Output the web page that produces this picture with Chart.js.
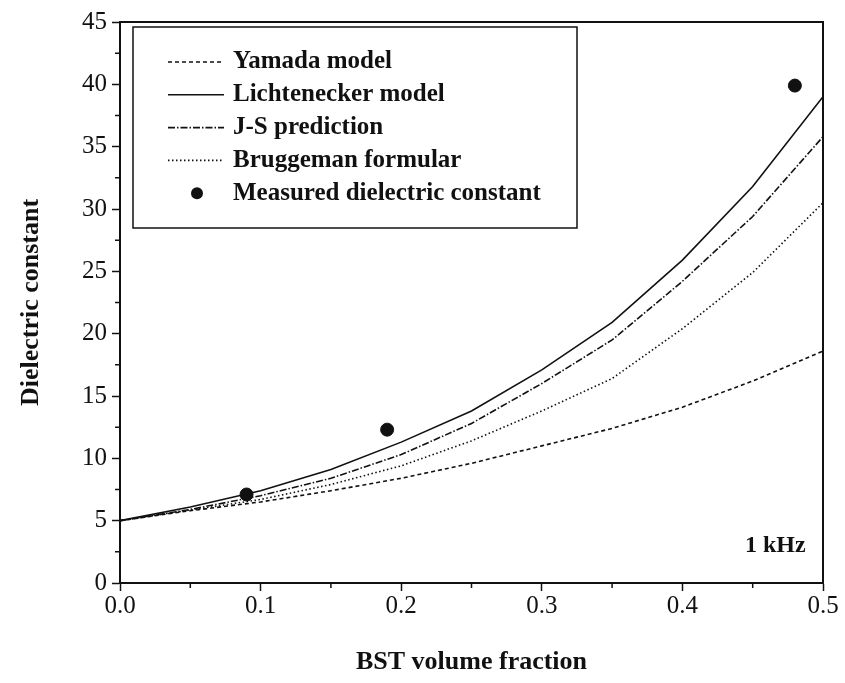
<!DOCTYPE html>
<html>
<head>
<meta charset="utf-8">
<script src="https://cdn.jsdelivr.net/npm/chart.js@4/dist/chart.umd.min.js"></script>
<style>
  html, body { margin: 0; padding: 0; background: #fff; }
  #wrap { width: 845px; height: 683px; }
</style>
</head>
<body>
<div id="wrap"><canvas id="dielectricChart" width="845" height="683"></canvas></div>
<script>
// Values (BST volume fraction vs dielectric constant)
const fractions = [0, 0.05, 0.1, 0.15, 0.2, 0.25, 0.3, 0.35, 0.4, 0.45, 0.5];
const yamada = [5, 5.8, 6.5, 7.4, 8.4, 9.6, 11.0, 12.4, 14.1, 16.2, 18.6];
const lichtenecker = [5, 6.1, 7.4, 9.1, 11.3, 13.8, 17.1, 20.9, 25.9, 31.8, 39.0];
const jsPrediction = [5, 5.9, 7.0, 8.4, 10.3, 12.8, 16.0, 19.5, 24.2, 29.4, 35.8];
const bruggeman = [5, 5.85, 6.7, 7.9, 9.4, 11.4, 13.8, 16.4, 20.4, 24.9, 30.5];
const measuredX = [0.09, 0.19, 0.48];
const measuredY = [7.1, 12.3, 39.9];
const xTicks = [0, 0.1, 0.2, 0.3, 0.4, 0.5];
const yTicks = [0, 5, 10, 15, 20, 25, 30, 35, 40, 45];

const INK = '#111';
const SERIF = '"Liberation Serif", "DejaVu Serif", serif';

function toPoints(xs, ys) {
    return xs.map((x, i) => ({ x: x, y: ys[i] }));
}

function lineSet(label, values, dash) {
    return {
        label: label,
        data: toPoints(fractions, values),
        borderColor: INK,
        borderWidth: 1.6,
        borderDash: dash,
        pointRadius: 0,
        tension: 0,
        fill: false
    };
}

// frame, minor ticks, legend box and the "1 kHz" note
const decorations = {
    id: 'decorations',
    afterDraw(chart) {
        const ctx = chart.ctx;
        const area = chart.chartArea;
        const xs = chart.scales.x;
        const ys = chart.scales.y;
        ctx.save();
        ctx.strokeStyle = INK;
        ctx.lineWidth = 2;
        ctx.setLineDash([]);
        ctx.strokeRect(area.left, area.top, area.right - area.left, area.bottom - area.top);

        // minor ticks
        ctx.lineWidth = 1.5;
        ctx.beginPath();
        for (let i = 0; i < yTicks.length - 1; i++) {
            const py = ys.getPixelForValue((yTicks[i] + yTicks[i + 1]) / 2);
            ctx.moveTo(area.left - 5, py);
            ctx.lineTo(area.left, py);
        }
        for (let i = 0; i < xTicks.length - 1; i++) {
            const px = xs.getPixelForValue((xTicks[i] + xTicks[i + 1]) / 2);
            ctx.moveTo(px, area.bottom);
            ctx.lineTo(px, area.bottom + 5);
        }
        ctx.stroke();

        // legend
        ctx.lineWidth = 1.5;
        ctx.strokeRect(133, 27, 444, 201);
        ctx.font = 'bold 25px ' + SERIF;
        ctx.textBaseline = 'middle';
        ctx.fillStyle = INK;
        chart.data.datasets.forEach((ds, i) => {
            const y = 62 + i * 32.8;
            if (ds.showLine === false) {
                ctx.beginPath();
                ctx.arc(197, y, 6, 0, Math.PI * 2);
                ctx.fill();
            } else {
                ctx.lineWidth = ds.borderWidth;
                ctx.setLineDash(ds.borderDash || []);
                ctx.beginPath();
                ctx.moveTo(168, y);
                ctx.lineTo(224, y);
                ctx.stroke();
                ctx.setLineDash([]);
            }
            ctx.fillText(ds.label, 233, y);
        });

        ctx.font = 'bold 24px ' + SERIF;
        ctx.fillText('1 kHz', 745, 546);
        ctx.restore();
    }
};

new Chart(document.getElementById('dielectricChart'), {
    type: 'scatter',
    data: {
        datasets: [
            lineSet('Yamada model', yamada, [4, 3]),
            lineSet('Lichtenecker model', lichtenecker, []),
            lineSet('J-S prediction', jsPrediction, [7, 2, 1.5, 2]),
            lineSet('Bruggeman formular', bruggeman, [1.5, 2.5]),
            {
                label: 'Measured dielectric constant',
                data: toPoints(measuredX, measuredY),
                showLine: false,
                pointRadius: 6.5,
                pointHoverRadius: 6.5,
                backgroundColor: INK,
                borderColor: INK
            }
        ]
    },
    options: {
        responsive: false,
        animation: false,
        events: [],
        datasets: { scatter: { showLine: true } },
        layout: { padding: { left: 0, right: 22, top: 22, bottom: 0 } },
        plugins: {
            legend: { display: false },
            tooltip: { enabled: false }
        },
        scales: {
            x: {
                type: 'linear',
                min: 0,
                max: 0.5,
                afterFit: (scale) => { scale.height = 100; },
                afterBuildTicks: (scale) => { scale.ticks = xTicks.map(v => ({ value: v })); },
                grid: { drawOnChartArea: false, tickLength: 8, tickWidth: 1.5, tickColor: INK },
                border: { display: true, color: INK, width: 2 },
                ticks: {
                    color: INK,
                    padding: 0,
                    maxRotation: 0,
                    font: { family: SERIF, size: 25 },
                    callback: (v) => Number(v).toFixed(1)
                },
                title: {
                    display: true,
                    text: 'BST volume fraction',
                    color: INK,
                    font: { family: SERIF, size: 26, weight: 'bold' },
                    padding: { top: 0, bottom: 5 }
                }
            },
            y: {
                type: 'linear',
                min: 0,
                max: 45,
                afterFit: (scale) => { scale.width = 120; },
                afterBuildTicks: (scale) => { scale.ticks = yTicks.map(v => ({ value: v })); },
                grid: { drawOnChartArea: false, tickLength: 8, tickWidth: 1.5, tickColor: INK },
                border: { display: true, color: INK, width: 2 },
                ticks: {
                    color: INK,
                    padding: 5,
                    font: { family: SERIF, size: 25 }
                },
                title: {
                    display: true,
                    text: 'Dielectric constant',
                    color: INK,
                    font: { family: SERIF, size: 26, weight: 'bold' },
                    padding: { top: 16, bottom: 0 }
                }
            }
        }
    },
    plugins: [decorations]
});
</script>
</body>
</html>
